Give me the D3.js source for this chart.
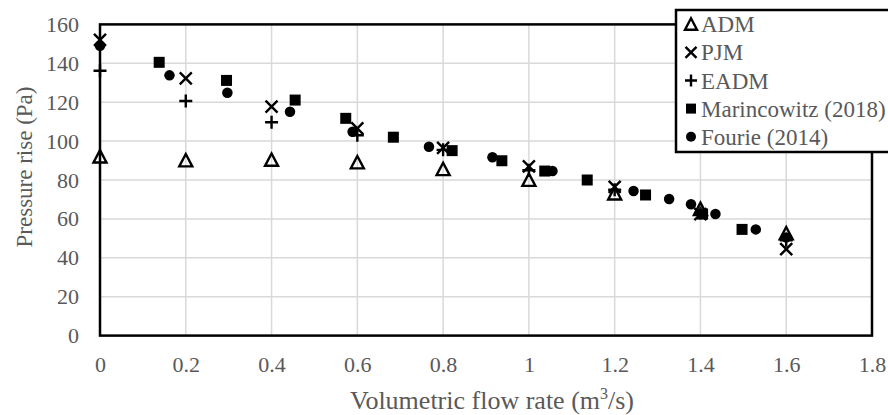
<!DOCTYPE html>
<html><head><meta charset="utf-8">
<script src="https://cdn.jsdelivr.net/npm/d3@7"></script>
<style>html,body{margin:0;padding:0;background:#fff;overflow:hidden}</style>
</head><body>
<svg id="chart" width="888" height="415"></svg>
<script>
// ---- data ----
const xTicks = [0, 0.2, 0.4, 0.6, 0.8, 1, 1.2, 1.4, 1.6, 1.8];
const yTicks = [0, 20, 40, 60, 80, 100, 120, 140, 160];
const gridX = [0, 0.2, 0.4, 0.6, 0.8, 1.0, 1.2, 1.4, 1.6];
const admY  = [92, 90, 90.3, 89, 85.5, 80, 73, 65, 52.5];
const pjmY  = [152, 132.3, 117.7, 106.5, 96.5, 87, 76.5, 62.5, 44.5];
const eadmY = [136.2, 120.6, 109.7, 103, 95.5, 85, 75, 63, 49];
const marX  = [0.138, 0.295, 0.455, 0.573, 0.684, 0.821, 0.937, 1.037, 1.136, 1.272, 1.405, 1.497];
const marY  = [140.5, 131.2, 121.1, 111.7, 102, 95.1, 89.9, 84.6, 80, 72.3, 62.5, 54.6];
const fouX  = [0, 0.162, 0.297, 0.443, 0.589, 0.767, 0.915, 1.055, 1.244, 1.327, 1.378, 1.435, 1.529, 1.6];
const fouY  = [149, 133.8, 124.9, 115.1, 104.8, 97.1, 91.7, 84.6, 74.3, 70.2, 67.5, 62.5, 54.6, 50.5];
const seriesNames = ["ADM", "PJM", "EADM", "Marincowitz (2018)", "Fourie (2014)"];

const svg = d3.select("#chart");
const L = 100, R = 872, T = 24.4, B = 335.6;
const x = d3.scaleLinear().domain([0, 1.8]).range([L, R]);
const y = d3.scaleLinear().domain([0, 160]).range([B, T]);
const grey = "#595959";
const font = "'Liberation Serif','Times New Roman',serif";

// gridlines
svg.append("g").selectAll("line").data(xTicks.slice(1, -1)).join("line")
  .attr("x1", d => x(d)).attr("x2", d => x(d)).attr("y1", T).attr("y2", B)
  .attr("stroke", "#d9d9d9").attr("stroke-width", 1.5);
svg.append("g").selectAll("line").data(yTicks.slice(1, -1)).join("line")
  .attr("x1", L).attr("x2", R).attr("y1", d => y(d)).attr("y2", d => y(d))
  .attr("stroke", "#d9d9d9").attr("stroke-width", 1.5);

// plot border
svg.append("rect").attr("x", L).attr("y", T).attr("width", R - L).attr("height", B - T)
  .attr("fill", "none").attr("stroke", "#000").attr("stroke-width", 2.5);

// axes ticks labels via d3 axes
const xAxis = d3.axisBottom(x).tickValues(xTicks).tickFormat(d3.format("~g")).tickSize(0).tickPadding(0);
const gx = svg.append("g").attr("transform", `translate(0,${B})`).call(xAxis);
gx.select(".domain").remove();
gx.selectAll("text").attr("font-family", font).attr("font-size", 22).attr("fill", grey)
  .attr("dy", null).attr("y", 36);

const yAxis = d3.axisLeft(y).tickValues(yTicks).tickSize(0).tickPadding(0);
const gy = svg.append("g").attr("transform", `translate(0,0)`).call(yAxis);
gy.select(".domain").remove();
gy.selectAll("text").attr("font-family", font).attr("font-size", 22).attr("fill", grey)
  .attr("x", 79).attr("dy", "0.32em");

// axis titles
const xt = svg.append("text").attr("x", 492).attr("y", 409).attr("text-anchor", "middle")
  .attr("font-family", font).attr("font-size", 26).attr("fill", grey);
xt.append("tspan").text("Volumetric flow rate (m");
xt.append("tspan").attr("font-size", 16).attr("dy", -10).text("3");
xt.append("tspan").attr("dy", 10).text("/s)");

svg.append("text").attr("transform", "translate(32,167) rotate(-90)").attr("text-anchor", "middle")
  .attr("font-family", font).attr("font-size", 23).attr("fill", grey).text("Pressure rise (Pa)");

// marker drawers
function tri(g, cx, cy, s) {
  g.append("path").attr("d", `M${cx},${cy - s * 0.5}L${cx + s * 0.5},${cy + s * 0.45}L${cx - s * 0.5},${cy + s * 0.45}Z`)
    .attr("fill", "none").attr("stroke", "#000").attr("stroke-width", 2.4).attr("stroke-linejoin", "miter");
}
function cross(g, cx, cy, s) {
  const h = s / 2;
  g.append("path").attr("d", `M${cx - h},${cy - h}L${cx + h},${cy + h}M${cx - h},${cy + h}L${cx + h},${cy - h}`)
    .attr("stroke", "#000").attr("stroke-width", 2.4);
}
function plus(g, cx, cy, s) {
  const h = s / 2;
  g.append("path").attr("d", `M${cx - h},${cy}L${cx + h},${cy}M${cx},${cy - h}L${cx},${cy + h}`)
    .attr("stroke", "#000").attr("stroke-width", 2.4);
}
function square(g, cx, cy, s) {
  g.append("rect").attr("x", cx - s / 2).attr("y", cy - s / 2).attr("width", s).attr("height", s).attr("fill", "#000");
}
function circle(g, cx, cy, s) {
  g.append("circle").attr("cx", cx).attr("cy", cy).attr("r", s / 2).attr("fill", "#000");
}

const pts = svg.append("g");
gridX.forEach((v, i) => tri(pts, x(v), y(admY[i]), 13));
gridX.forEach((v, i) => cross(pts, x(v), y(pjmY[i]), 12));
gridX.forEach((v, i) => plus(pts, x(v), y(eadmY[i]), 13));
marX.forEach((v, i) => square(pts, x(v), y(marY[i]), 11));
fouX.forEach((v, i) => circle(pts, x(v), y(fouY[i]), 10.5));

// legend
const lg = svg.append("g");
lg.append("rect").attr("x", 676).attr("y", 10).attr("width", 230).attr("height", 142)
  .attr("fill", "#fff").attr("stroke", "#000").attr("stroke-width", 2.5);
const drawers = [tri, cross, plus, square, circle];
const lsize = [12, 11, 12, 10, 10];
seriesNames.forEach((name, i) => {
  const cy = 24.3 + i * 28.1;
  drawers[i](lg, 691, cy, lsize[i]);
  lg.append("text").attr("x", 701).attr("y", cy).attr("dy", "0.35em")
    .attr("font-family", font).attr("font-size", 23).attr("fill", grey).text(name);
});
</script>
</body></html>
